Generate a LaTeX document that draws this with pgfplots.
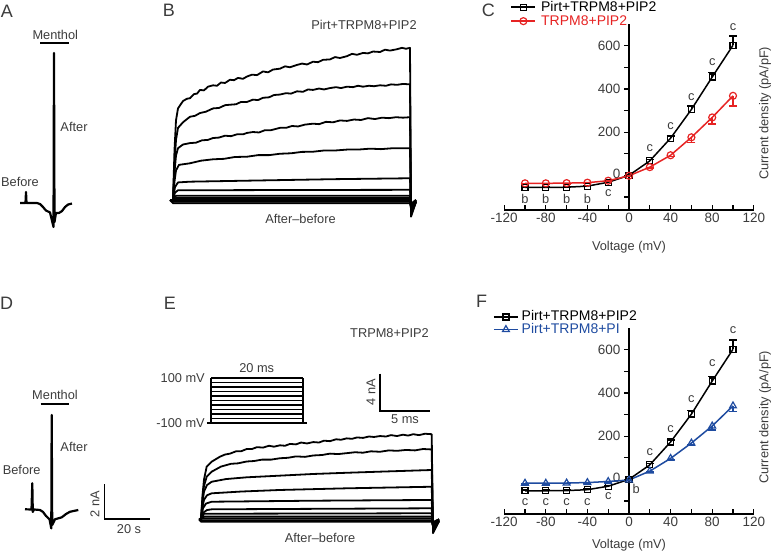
\documentclass[border=0pt]{standalone}
\usepackage{pgfplots}
\pgfplotsset{compat=1.18}
\usepackage{fontspec}
\setmainfont{Liberation Sans}
\definecolor{txt}{RGB}{60,60,60}
\definecolor{myred}{RGB}{230,35,35}
\definecolor{myblue}{RGB}{30,75,160}
\newcommand\fs{\fontsize{13.5}{15}\selectfont}
\newcommand\fl{\fontsize{14}{16}\selectfont}
\newcommand\fa{\fontsize{12.8}{15}\selectfont}
\newcommand\fL{\fontsize{18}{20}\selectfont}
\pgfplotsset{
 trax/.style={scale only axis, anchor=south west, hide axis, clip=false, enlargelimits=false},
 tr/.style={black, line width=1.8pt, line join=round, no markers},
 ivax/.style={
  scale only axis, width=249.6pt, height=185.8pt, anchor=south west,
  xmin=-120,xmax=120,ymin=-160,ymax=700, clip=false,
  axis x line=bottom, axis y line=middle,
  axis line style={-, line width=1.5pt, black},
  xtick={-120,-80,-40,0,40,80,120}, xticklabels={-120,-80,-40,0,40,80,120},
  minor xtick={-100,-60,-20,20,60,100},
  ytick={0,200,400,600}, yticklabels={\raisebox{4pt}{0},200,400,600},
  minor ytick={-100,100,300,500},
  xtick align=inside, ytick align=outside,
  major tick length=5pt, minor tick length=5pt,
  tick style={line width=1.2pt, black},
  hide obscured x ticks=false, hide obscured y ticks=false,
  tick label style={font=\fs, text=txt},
  xlabel={Voltage (mV)}, ylabel={Current density (pA/pF)},
  every axis y label/.style={at={(rel axis cs:1.045,0.52)}, rotate=90, anchor=center, font=\fa, text=txt},
  legend cell align=left,
  legend image code/.code={\draw[mark repeat=2,mark phase=2,##1] plot coordinates {(0pt,0pt)(12pt,0pt)(24pt,0pt)};},
  legend style={draw=none, fill=none, font=\fl, inner sep=0pt, column sep=2pt,
     nodes={inner sep=1pt, text height=10pt, text depth=2pt}, anchor=north west},
 },
 blk/.style={black, line width=1.5pt, mark=square, mark size=3pt,
   mark options={solid, fill=white, line width=1.2pt},
   error bars/.cd, y dir=plus, y explicit, error bar style={line width=1.5pt},
   error mark options={rotate=90, mark size=4pt, line width=1.5pt}},
 rd/.style={myred, line width=1.5pt, mark=o, mark size=3.5pt,
   mark options={solid, fill=white, line width=1.2pt},
   error bars/.cd, y dir=minus, y explicit, error bar style={line width=1.5pt},
   error mark options={rotate=90, mark size=4pt, line width=1.5pt}},
 bl/.style={myblue, line width=1.5pt, mark=triangle, mark size=3.9pt,
   mark options={solid, fill=white, line width=1.2pt},
   error bars/.cd, y dir=minus, y explicit, error bar style={line width=1.5pt},
   error mark options={rotate=90, mark size=4pt, line width=1.5pt}},
}
\begin{document}
\begin{tikzpicture}[x=1pt,y=1pt]
\useasboundingbox (0,0) rectangle (773,554);

% ---------- Panel A ----------
\begin{axis}[trax, at={(15.4pt,316pt)}, width=73.6pt, height=210pt, xmin=-2,xmax=30,ymin=-2,ymax=10]
\addplot[black, line width=2.2pt, line join=round] coordinates {
(0,0) (2.39,0) (2.61,0.63) (2.83,0) (7.39,0) (8.7,-0.06) (10.0,-0.23) (11.3,-0.43) (13.04,-0.54)
(14.57,-1.37) (14.78,8.57) (15.0,-1.09) (15.65,-0.57) (16.96,-0.57) (18.26,-0.46) (19.57,-0.23)
(20.87,-0.09) (22.6,-0.03)};
\addplot[black, line width=1.8pt] coordinates {(8.7,9.14) (21.3,9.14)};
\end{axis}

% ---------- Panel D ----------
\begin{axis}[trax, at={(20.4pt,9.7pt)}, width=142.6pt, height=210pt, xmin=-2,xmax=60,ymin=-2,ymax=10]
\addplot[black, line width=2.2pt, line join=round] coordinates {
(0,0) (2.83,-0.01) (3.17,1.49) (3.39,-0.15) (3.91,-0.01) (6.52,-0.04) (7.83,-0.15) (9.13,-0.38)
(10.65,-0.57) (11.43,-1.09) (11.61,5.39) (11.83,-0.9) (13.04,-0.57) (15.96,-0.46) (17.83,-0.27)
(19.57,-0.14) (23.17,-0.04)};
\addplot[black, line width=1.8pt] coordinates {(6.8,6.02) (19.3,6.02)};
\addplot[black, line width=1.6pt] coordinates {(34.5,1.43) (34.5,-0.57) (54.5,-0.57)};
\end{axis}

% ---------- Panel B ----------
\begin{axis}[trax, at={(153pt,335.5pt)}, width=270pt, height=175.75pt, xmin=-2,xmax=25,ymin=-2,ymax=17]
\addplot[tr] coordinates {(-0.3,0) (0,0) (0.15,5.4) (0.3,8.6) (0.5,9.9) (1.0,10.7)(1.4,10.95)(1.7,11.0)(2.1,11.45)(2.4,11.5)(2.7,11.9)(3.1,11.85)(3.5,12.25)(4.0,12.4)(4.4,12.35)(4.8,12.7)(5.2,12.65)(5.7,13.0)(6.1,12.95)(6.5,13.2)(7.0,13.1)(7.4,13.35)(7.9,13.55)(8.4,13.5)(9.0,13.9)(9.5,13.8)(10.0,14.1)(10.7,14.2)(11.2,14.45)(11.7,14.35)(12.4,14.6)(12.9,14.75)(13.4,14.65)(14.0,14.95)(14.5,14.9)(15.0,15.15)(15.7,15.2)(16.2,15.45)(16.7,15.35)(17.4,15.55)(17.9,15.8)(18.4,15.7)(19.0,15.9)(19.5,15.85)(20.0,16.05)(20.7,16.0)(21.2,16.25)(21.7,16.15)(22.4,16.3)(22.9,16.45)(23.3,16.35)(23.7,16.45) (23.8,-1.8) (24.3,-0.2)};
\addplot[tr] coordinates {(-0.3,0) (0,0) (0.15,4.0) (0.3,6.5) (0.5,7.8) (1.0,8.4)(1.4,8.75)(1.7,9.0)(2.2,9.1)(2.7,9.4)(3.3,9.55)(4.0,9.9)(4.6,9.95)(5.2,10.25)(5.7,10.3)(6.3,10.35)(6.8,10.6)(7.4,10.6)(8.0,10.85)(8.5,10.8)(9.0,11.05)(9.6,11.1)(10.1,11.35)(10.7,11.4)(11.3,11.55)(11.8,11.5)(12.4,11.75)(13.0,11.7)(13.5,11.95)(14.0,11.9)(14.6,12.05)(15.1,11.95)(15.7,12.1)(16.3,12.2)(16.8,12.1)(17.4,12.25)(18.0,12.2)(18.5,12.35)(19.0,12.25)(19.6,12.35)(20.1,12.3)(20.7,12.4)(21.3,12.35)(21.8,12.5)(22.4,12.45)(23.0,12.55)(23.7,12.5) (23.8,-1.6) (24.3,-0.2)};
\addplot[tr] coordinates {(-0.3,0) (0,0) (0.15,3.0) (0.3,4.8) (0.5,5.6) (1.0,6.0)(1.7,6.15)(2.3,6.2)(2.9,6.45)(3.5,6.5)(4.0,6.7)(4.6,6.75)(5.2,6.95)(5.8,6.9)(6.4,7.1)(7.0,7.1)(7.4,7.25)(8.0,7.35)(8.6,7.3)(9.2,7.55)(9.8,7.55)(10.7,7.8)(11.3,7.8)(11.9,8.0)(12.5,7.95)(13.2,8.15)(14.0,8.25)(14.6,8.2)(15.3,8.45)(16.0,8.4)(16.7,8.6)(17.4,8.55)(18.1,8.7)(18.8,8.65)(19.5,8.85)(20.2,8.75)(20.9,8.9)(21.6,8.85)(22.3,8.95)(23.0,8.9)(23.7,8.95) (23.8,-1.4) (24.3,-0.2)};
\addplot[tr] coordinates {(-0.3,0) (0,0) (0.15,2.0) (0.3,3.2) (0.6,3.8) (1.7,3.97)(2.8,4.25)(4.0,4.4)(5.1,4.45)(6.2,4.65)(7.4,4.68)(8.5,4.85)(9.6,4.85)(10.7,5.0)(11.8,5.05)(12.9,5.2)(14.0,5.22)(15.1,5.35)(16.2,5.35)(17.4,5.45)(18.5,5.45)(19.7,5.55)(20.8,5.5)(22.0,5.6)(23.7,5.6) (23.8,-1.2) (24.3,-0.2)};
\addplot[tr] coordinates {(-0.3,0) (0,0) (0.2,1.4) (0.5,1.9) (1.7,1.98) (8,2.1) (16,2.25) (23.7,2.35) (23.8,-1.0) (24.3,-0.1)};
\addplot[tr] coordinates {(-0.3,0) (0,0) (0.2,0.8) (0.5,1.05) (12,1.08) (23.7,1.1) (23.8,-0.8) (24.3,-0.1)};
\addplot[tr] coordinates {(-0.3,0) (0,0) (0.3,0.45) (23.7,0.45) (23.8,-0.6) (24.3,0)};
\addplot[tr] coordinates {(-0.3,0) (0,0) (0.3,0.2) (23.7,0.2) (23.8,-0.4) (24.3,0)};
\addplot[tr] coordinates {(-0.3,0) (23.7,0) (23.8,-0.5) (24.3,0)};
\addplot[tr] coordinates {(-0.3,0) (0,-0.2) (23.7,-0.2) (23.8,-0.7)};
\addplot[tr] coordinates {(-0.3,0) (0,-0.35) (23.7,-0.35) (23.8,-0.9)};
\end{axis}

% ---------- Panel E ----------
\begin{axis}[trax, at={(181pt,16.2pt)}, width=270pt, height=175.75pt, xmin=-2,xmax=25,ymin=-2,ymax=17]
\addplot[tr] coordinates {(-0.2,0) (0,0) (0.15,2.6) (0.3,4.3) (0.57,5.7) (1.07,6.23) (1.9,6.77)(2.4,7.0)(2.9,7.1)(3.5,7.35)(4.0,7.35)(4.57,7.6)(5.1,7.6)(5.6,7.8)(6.2,7.75)(6.8,7.95)(7.3,7.85)(7.9,8.0)(8.4,7.95)(8.9,8.15)(9.5,8.1)(10.0,8.3)(10.6,8.2)(11.23,8.35)(11.8,8.3)(12.3,8.5)(12.9,8.45)(13.5,8.65)(14.0,8.6)(14.57,8.75)(15.1,8.7)(15.6,8.85)(16.2,8.8)(16.8,8.95)(17.3,8.9)(17.9,9.0)(18.5,8.95)(19.0,9.1)(19.6,9.0)(20.2,9.15)(20.7,9.05)(21.23,9.2)(21.8,9.1)(22.4,9.25)(23.07,9.2) (23.2,-1.5) (23.8,-0.2)};
\addplot[tr] coordinates {(-0.2,0) (0,0) (0.15,2.2) (0.3,3.6) (0.57,4.6) (1.07,5.15) (2.0,5.7)(2.5,5.85)(3.0,6.0)(3.7,6.05)(4.57,6.25)(5.3,6.3)(6.1,6.45)(7.0,6.45)(7.9,6.6)(8.7,6.65)(9.5,6.8)(10.4,6.75)(11.23,6.9)(12.1,6.95)(12.9,7.1)(13.7,7.05)(14.57,7.15)(15.4,7.25)(16.2,7.2)(17.0,7.35)(17.9,7.3)(18.8,7.45)(19.6,7.4)(20.5,7.5)(21.4,7.45)(22.2,7.6)(23.07,7.55) (23.2,-1.4) (23.8,-0.2)};
\addplot[tr] coordinates {(-0.2,0) (0,0) (0.15,1.8) (0.3,3.0) (0.6,3.7) (1.07,4.06) (2.5,4.35) (4.57,4.54) (7.9,4.72) (11.23,4.9) (14.57,5.03) (17.9,5.15) (23.07,5.33) (23.2,-1.2) (23.8,-0.2)};
\addplot[tr] coordinates {(-0.2,0) (0,0) (0.15,1.3) (0.3,2.1) (0.6,2.6) (1.07,2.81) (4.0,3.0) (7.9,3.17) (14.57,3.35) (23.07,3.52) (23.2,-1.0) (23.8,-0.1)};
\addplot[tr] coordinates {(-0.2,0) (0,0) (0.2,1.2) (0.5,1.7) (1.07,1.9) (11.23,2.01) (23.07,2.09) (23.2,-0.9) (23.8,-0.1)};
\addplot[tr] coordinates {(-0.2,0) (0,0) (0.2,0.7) (0.6,1.0) (1.07,1.08) (23.07,1.19) (23.2,-0.7) (23.8,0)};
\addplot[tr] coordinates {(-0.2,0) (0,0) (0.3,0.6) (23.07,0.65) (23.2,-0.5) (23.8,0)};
\addplot[tr] coordinates {(-0.2,0) (0,0) (0.3,0.3) (23.07,0.3) (23.2,-0.4) (23.8,0)};
\addplot[tr] coordinates {(-0.2,0) (0,0.1) (23.07,0.1) (23.2,-0.3) (23.8,0)};
\addplot[tr] coordinates {(-0.2,0) (0,-0.1) (23.07,-0.1) (23.2,-0.5)};
\addplot[tr] coordinates {(-0.2,0) (0,-0.25) (23.07,-0.25) (23.2,-0.7)};
\addplot[black, line width=1.6pt] coordinates {(17.9,15.74) (17.9,11.74) (22.9,11.74)};
\end{axis}

% ---------- Voltage protocol (E inset) ----------
\begin{axis}[trax, at={(201.8pt,128.75pt)}, width=110.4pt, height=49.5pt, xmin=-2,xmax=22,ymin=-110,ymax=110, unbounded coords=jump]
\addplot[black, line width=1.1pt] coordinates {(-0.9,-100) (20.9,-100)};
\addplot[black, line width=1.1pt] coordinates {
(0,-80) (20,-80) (20,nan) (0,-60) (20,-60) (20,nan) (0,-40) (20,-40) (20,nan)
(0,-20) (20,-20) (20,nan) (0,0) (20,0) (20,nan) (0,20) (20,20) (20,nan)
(0,40) (20,40) (20,nan) (0,60) (20,60) (20,nan) (0,80) (20,80) (20,nan) (0,100) (20,100)};
\addplot[black, line width=1.1pt] coordinates {(0,-100) (0,100) (0,nan) (20,-100) (20,100)};
\end{axis}

% ---------- Panel C ----------
\begin{axis}[ivax, at={(504.2pt,344.1pt)},
  every axis x label/.style={at={(rel axis cs:0.5,-0.2)}, anchor=center, font=\fa, text=txt},
  legend style={at={(rel axis cs:0.025,1.13)}, row sep=0pt, column sep=4pt}]
\addplot[blk] coordinates {(-100,-56) +- (0,3) (-80,-56) +- (0,3) (-60,-55) +- (0,3) (-40,-50) +- (0,3) (-20,-32) +- (0,3) (0,0) +- (0,2) (20,67) +- (0,6) (40,172) +- (0,10) (60,305) +- (0,16) (80,455) +- (0,22) (100,602) +- (0,42)};
\addlegendentry{Pirt+TRPM8+PIP2}
\addplot[rd] coordinates {(-100,-37) +- (0,3) (-80,-37) +- (0,3) (-60,-36) +- (0,3) (-40,-34) +- (0,3) (-20,-25) +- (0,3) (0,-2) +- (0,2) (20,38) +- (0,5) (40,93) +- (0,6) (60,176) +- (0,23) (80,268) +- (0,31) (100,368) +- (0,46)};
\addlegendentry{\textcolor{myred}{TRPM8+PIP2}}
\foreach \xx in {-100,-80,-60,-40} {\edef\tmp{\noexpand\node[font=\noexpand\fa, text=txt] at (axis cs:\xx,-110) {b};}\tmp}
\node[font=\fa, text=txt] at (axis cs:-20,-83) {c};
\node[font=\fa, text=txt] at (axis cs:20,125) {c};
\node[font=\fa, text=txt] at (axis cs:40,228) {c};
\node[font=\fa, text=txt] at (axis cs:60,361) {c};
\node[font=\fa, text=txt] at (axis cs:80,523) {c};
\node[font=\fa, text=txt] at (axis cs:100,685) {c};
\end{axis}

% ---------- Panel F ----------
\begin{axis}[ivax, at={(504.2pt,40.1pt)},
  every axis x label/.style={at={(rel axis cs:0.5,-0.171)}, anchor=center, font=\fa, text=txt},
  legend style={at={(rel axis cs:-0.045,1.099)}, row sep=-1.4pt}]
\addplot[blk] coordinates {(-100,-53) +- (0,3) (-80,-53) +- (0,3) (-60,-52) +- (0,3) (-40,-48) +- (0,3) (-20,-32) +- (0,3) (0,0) +- (0,2) (20,67) +- (0,6) (40,173) +- (0,10) (60,302) +- (0,16) (80,455) +- (0,22) (100,602) +- (0,42)};
\addlegendentry{Pirt+TRPM8+PIP2}
\addplot[bl] coordinates {(-100,-18) +- (0,3) (-80,-18) +- (0,3) (-60,-17) +- (0,3) (-40,-15) +- (0,3) (-20,-10) +- (0,3) (0,-3) +- (0,2) (20,38) +- (0,5) (40,97) +- (0,5) (60,168) +- (0,8) (80,247) +- (0,19) (100,340) +- (0,27)};
\addlegendentry{\textcolor{myblue}{Pirt+TRPM8+PI}}
\foreach \xx in {-100,-80,-60,-40} {\edef\tmp{\noexpand\node[font=\noexpand\fa, text=txt] at (axis cs:\xx,-104) {c};}\tmp}
\node[font=\fa, text=txt] at (axis cs:-20,-80) {c};
\node[font=\fa, text=txt] at (axis cs:7,-46) {b};
\node[font=\fa, text=txt] at (axis cs:20,128) {c};
\node[font=\fa, text=txt] at (axis cs:40,231) {c};
\node[font=\fa, text=txt] at (axis cs:60,372) {c};
\node[font=\fa, text=txt] at (axis cs:80,537) {c};
\node[font=\fa, text=txt] at (axis cs:100,691) {c};
\end{axis}

% ---------- Text ----------
\begin{scope}[every node/.style={text=txt, inner sep=0pt}]
\node[font=\fL] at (7,542.3) {A};
\node[font=\fL] at (169,544) {B};
\node[font=\fL] at (488.3,544) {C};
\node[font=\fL] at (6.7,250.7) {D};
\node[font=\fL] at (170,250.7) {E};
\node[font=\fL] at (481.7,252.3) {F};
\node[font=\fa] at (55.3,519) {Menthol};
\node[font=\fa] at (74,427) {After};
\node[font=\fa] at (20,372) {Before};
\node[font=\fa] at (364,529) {Pirt+TRPM8+PIP2};
\node[font=\fa] at (300.5,334.7) {After–before};
\node[font=\fa] at (55,159) {Menthol};
\node[font=\fa] at (74,107.3) {After};
\node[font=\fa] at (21.7,84) {Before};
\node[font=\fa, rotate=90] at (95,50) {2 nA};
\node[font=\fa] at (129,24.7) {20 s};
\node[font=\fa] at (389.5,220.7) {TRPM8+PIP2};
\node[font=\fa] at (256.7,185.7) {20 ms};
\node[font=\fa, anchor=east] at (205,175.7) {100 mV};
\node[font=\fa, anchor=east] at (205,131.3) {-100 mV};
\node[font=\fa, rotate=90] at (371,162) {4 nA};
\node[font=\fa] at (405,134.7) {5 ms};
\node[font=\fa] at (320,15.7) {After–before};
\end{scope}
\end{tikzpicture}
\end{document}
